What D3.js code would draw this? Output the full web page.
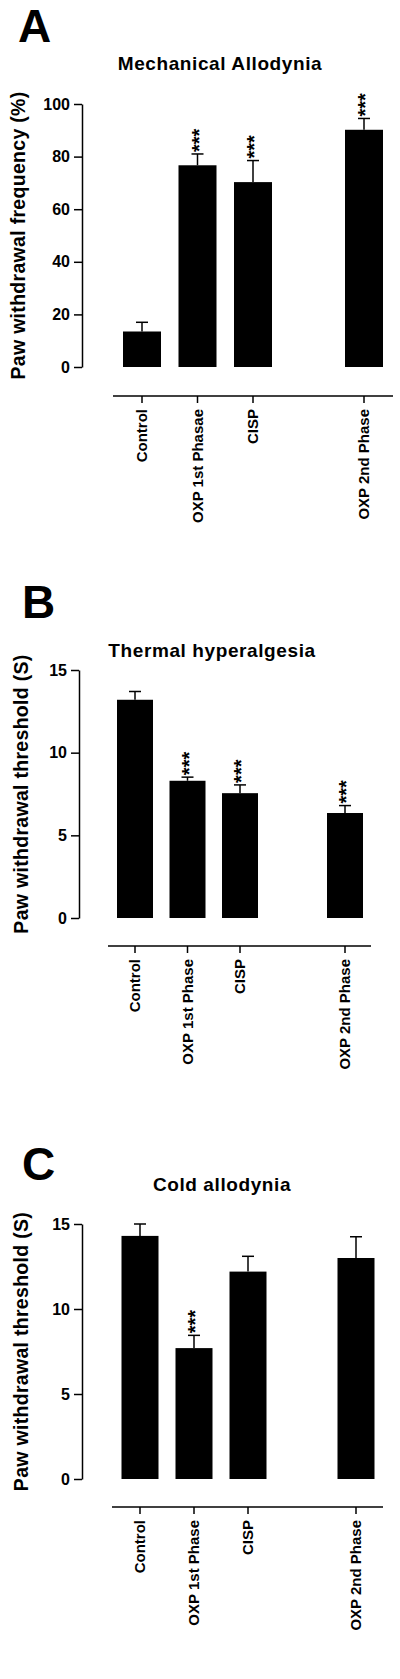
<!DOCTYPE html>
<html><head><meta charset="utf-8">
<script src="https://cdn.jsdelivr.net/npm/d3@7"></script>
<style>body{margin:0;background:#fff}text{font-family:Arial,"Liberation Sans",sans-serif;font-weight:bold}</style>
</head><body><svg id="c" width="400" height="1679"></svg>
<script>
const categoriesA=["Control","OXP 1st Phasae","CISP","OXP 2nd Phase"];
const categoriesBC=["Control","OXP 1st Phase","CISP","OXP 2nd Phase"];
const slots=[0,1,2,4];
const meanA=[13.5,76.7,70.3,90.2], errA=[3.5,4.3,8.2,4.3], starsA=[false,true,true,true];
const meanB=[13.2,8.3,7.55,6.35], errB=[0.5,0.22,0.5,0.45], starsB=[false,true,true,true];
const meanC=[14.3,7.7,12.2,13.0], errC=[0.7,0.75,0.9,1.25], starsC=[false,true,false,false];
const ticksA=[0,20,40,60,80,100], ticksBC=[0,5,10,15];

const svg=d3.select("#c");
function panel(o){
  const g=svg.append("g");
  g.append("text").attr("x",o.letterX).attr("y",o.letterY).attr("font-size",46).text(o.letter);
  g.append("text").attr("x",o.titleX).attr("y",o.titleY).attr("text-anchor","middle").attr("font-size",19).attr("letter-spacing",0.6).text(o.title);
  const y=d3.scaleLinear().domain([0,o.max]).range([o.y0,o.y1]);
  const x=d3.scaleLinear().domain([0,4]).range([o.x0,o.x4]);
  const ax=g.append("g").attr("transform",`translate(${o.axX},0)`).call(d3.axisLeft(y).tickValues(o.ticks).tickSize(8).tickSizeOuter(0));
  ax.select(".domain").attr("stroke-width",1.5);
  ax.selectAll(".tick line").attr("stroke-width",1.5);
  ax.selectAll("text").attr("font-size",16).attr("font-family","Arial").attr("font-weight","bold").attr("dx",-1);
  g.append("text").attr("transform",`translate(${o.ylabX},${(o.y0+o.y1)/2}) rotate(-90)`).attr("text-anchor","middle").attr("font-size",19.5).attr("letter-spacing",0.3).text(o.ylab);
  const bw=o.bw;
  o.mean.forEach((m,i)=>{
    const cx=x(slots[i]);
    g.append("line").attr("x1",cx).attr("x2",cx).attr("y1",y(m)).attr("y2",y(m+o.err[i])).attr("stroke","#000").attr("stroke-width",1.5);
    g.append("line").attr("x1",cx-6).attr("x2",cx+6).attr("y1",y(m+o.err[i])).attr("y2",y(m+o.err[i])).attr("stroke","#000").attr("stroke-width",1.5);
    g.append("rect").attr("x",cx-bw/2).attr("y",y(m)).attr("width",bw).attr("height",y(0)-y(m)).attr("fill","#000");
    if(o.stars[i]) g.append("text").attr("transform",`translate(${cx+8},${y(m+o.err[i])-2}) rotate(-90)`).attr("font-size",20).attr("font-weight","normal").text("***");
  });
  g.append("line").attr("x1",o.xa0).attr("x2",o.xa1).attr("y1",o.xaY).attr("y2",o.xaY).attr("stroke","#000").attr("stroke-width",1.5);
  o.cats.forEach((c,i)=>{
    const cx=x(slots[i]);
    g.append("line").attr("x1",cx).attr("x2",cx).attr("y1",o.xaY).attr("y2",o.xaY+7).attr("stroke","#000").attr("stroke-width",1.5);
    g.append("text").attr("transform",`translate(${cx+5},${o.xaY+13}) rotate(-90)`).attr("text-anchor","end").attr("font-size",15).text(c);
  });
}
panel({letter:"A",letterX:18,letterY:42,title:"Mechanical Allodynia",titleX:220,titleY:70,max:100,y0:367,y1:104,x0:142,x4:364,axX:82,ticks:ticksA,ylabX:25,ylab:"Paw withdrawal frequency (%)",mean:meanA,err:errA,stars:starsA,bw:38,cats:categoriesA,xa0:113,xa1:393,xaY:396});
panel({letter:"B",letterX:22,letterY:618,title:"Thermal hyperalgesia",titleX:212,titleY:657,max:15,y0:918,y1:670,x0:135,x4:345,axX:79,ticks:ticksBC,ylabX:28,ylab:"Paw withdrawal threshold (S)",mean:meanB,err:errB,stars:starsB,bw:36,cats:categoriesBC,xa0:108,xa1:371,xaY:946});
panel({letter:"C",letterX:22,letterY:1180,title:"Cold allodynia",titleX:222,titleY:1191,max:15,y0:1479,y1:1224,x0:140,x4:356,axX:82,ticks:ticksBC,ylabX:28,ylab:"Paw withdrawal threshold (S)",mean:meanC,err:errC,stars:starsC,bw:37,cats:categoriesBC,xa0:112,xa1:383,xaY:1507});
</script></body></html>
